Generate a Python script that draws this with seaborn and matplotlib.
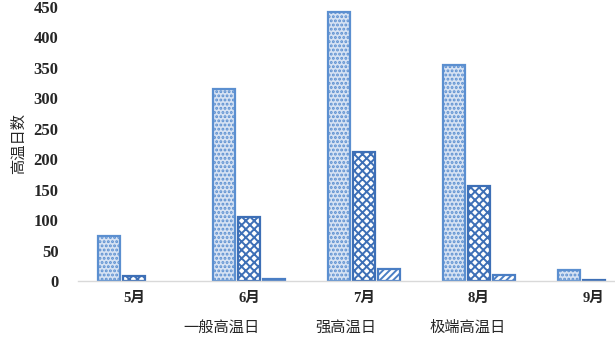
import matplotlib
matplotlib.use("Agg")
import matplotlib.pyplot as plt
import seaborn as sns
import pandas as pd

months = ["5月", "6月", "7月", "8月", "9月"]
series = ["一般高温日", "强高温日", "极端高温日"]
general = [74, 315, 441, 355, 18]
strong = [9, 105, 212, 156, 1]
extreme = [0, 3, 20, 10, 0]
yticks = [0, 50, 100, 150, 200, 250, 300, 350, 400, 450]

sns.set_theme(style="white")
plt.rcParams['font.family'] = ['Liberation Serif', 'Noto Sans CJK SC']
plt.rcParams['hatch.linewidth'] = 1.4

df = pd.DataFrame({
    "month": months * 3,
    "type": [series[0]] * 5 + [series[1]] * 5 + [series[2]] * 5,
    "days": general + strong + extreme,
})

fig = plt.figure(figsize=(6.15, 3.37), dpi=100)
ax = fig.add_axes([78 / 615, 1 - 281 / 337, (615 - 78) / 615, 274 / 337])

sns.barplot(data=df, x="month", y="days", hue="type", order=months,
            hue_order=series, width=0.65, gap=0.1, ax=ax, legend=False,
            errorbar=None)

styles = [
    dict(fc="#d6e2f3", ec="#5b8fd0", hatch="...."),
    dict(fc="#ffffff", ec="#3d6fb6", hatch="xxxx"),
    dict(fc="#ffffff", ec="#4a7ec4", hatch="/////"),
]
for cont, st in zip(ax.containers, styles):
    for p in cont.patches:
        p.set_facecolor(st["fc"])
        p.set_edgecolor(st["ec"])
        p.set_hatch(st["hatch"])
        p.set_linewidth(1.6)
        if p.get_height() == 0:
            p.set_visible(False)

ax.set_ylim(0, 450)
ax.set_xlim(-0.487, 4.183)
ax.set_yticks(yticks)
ax.set_yticklabels([str(v) for v in yticks], fontsize=12, fontweight="bold")
ax.set_xticks(range(len(months)))
ax.set_xticklabels(months, fontsize=10.5, fontweight="bold",
                   family=['Liberation Serif', 'Noto Sans CJK SC'])
ax.tick_params(axis="y", length=0, pad=14)
ax.tick_params(axis="x", length=0, pad=8)
ax.set_xlabel("")
ax.set_ylabel("高温日数", fontsize=11, family=['Noto Sans CJK SC'], labelpad=5)
for s in ["top", "right", "left"]:
    ax.spines[s].set_visible(False)
ax.spines["bottom"].set_color("#d9d9d9")
ax.spines["bottom"].set_linewidth(1.0)
ax.grid(False)

for x, lab in zip([222, 346, 468], series):
    fig.text(x / 615, 1 - 327 / 337, lab, ha="center", va="center",
             fontsize=11, family=['Noto Sans CJK SC'])

fig.savefig("out.png", dpi=100)
